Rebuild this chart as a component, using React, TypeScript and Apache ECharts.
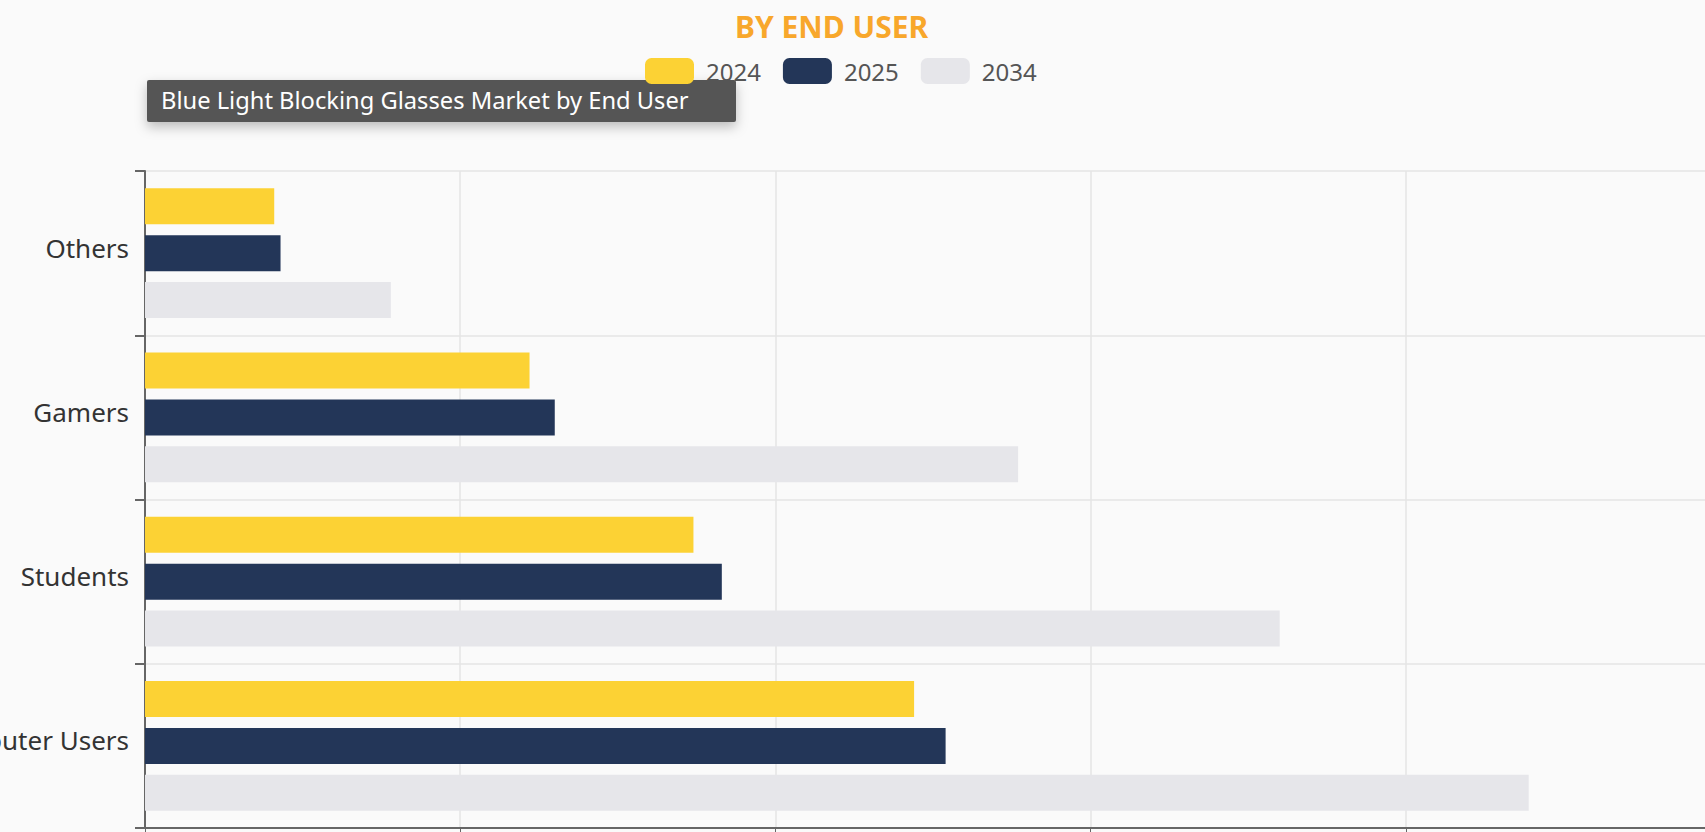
import React, { useEffect, useRef } from "react";
import * as echarts from "echarts";

const categories = ["Others", "Gamers", "Students", "Computer Users"];
const seriesNames = ["2024", "2025", "2034"];
const values2024 = [0.41, 1.22, 1.74, 2.44];
const values2025 = [0.43, 1.3, 1.83, 2.54];
const values2034 = [0.78, 2.77, 3.6, 4.39];
const seriesColors = ["#FCD234", "#233658", "#E6E6EA"];
const titleText = "BY END USER";
const tooltipText = "Blue Light Blocking Glasses Market by End User";

export default function App() {
  const ref = useRef<HTMLDivElement>(null);
  useEffect(() => {
    if (!ref.current) return;
    const chart = echarts.init(ref.current, undefined, { renderer: "svg" });
    const seriesData = [values2024, values2025, values2034];
    chart.setOption({
      animation: false,
      backgroundColor: "#FAFAFA",
      title: {
        text: titleText,
        left: 730,
        top: 6,
        textStyle: {
          color: "#F8A72B",
          fontSize: 30,
          fontWeight: "bold",
          fontFamily: "Noto Sans",
        },
      },
      legend: {
        data: seriesNames,
        left: 640,
        top: 53,
        itemWidth: 49,
        itemHeight: 26,
        itemGap: 22,
        icon: "roundRect",
        textStyle: {
          color: "#555",
          fontSize: 24,
          fontFamily: "Noto Sans",
          padding: [0, 0, 0, 7],
        },
      },
      grid: {
        left: 145,
        top: 171,
        width: 1576,
        height: 657,
        containLabel: false,
        outerBoundsMode: "none",
      },
      xAxis: {
        type: "value",
        min: 0,
        max: 5,
        interval: 1,
        axisLine: { show: true, lineStyle: { color: "#666", width: 2 } },
        axisTick: { show: true, length: 6, lineStyle: { color: "#666" } },
        axisLabel: { show: false },
        splitLine: { show: true, lineStyle: { color: "#E4E4E4", width: 1.5 } },
      },
      yAxis: {
        type: "category",
        inverse: true,
        data: categories,
        axisLine: { show: true, lineStyle: { color: "#666", width: 2 } },
        axisTick: { show: true, length: 10, lineStyle: { color: "#666", width: 2 } },
        axisLabel: {
          color: "#333",
          fontSize: 26,
          fontFamily: "Noto Sans",
          margin: 16,
          verticalAlign: "bottom",
          lineHeight: 11,
        },
        splitLine: { show: true, lineStyle: { color: "#E4E4E4", width: 1.5 } },
      },
      series: seriesNames.map((name, i) => ({
        name,
        type: "bar",
        data: seriesData[i],
        barWidth: 36,
        barGap: "30%",
        itemStyle: { color: seriesColors[i] },
      })),
      graphic: [
        {
          type: "group",
          left: 147,
          top: 80,
          z: 100,
          children: [
            {
              type: "rect",
              shape: { x: 0, y: 0, width: 589, height: 42, r: 2 },
              style: {
                fill: "#555555",
                shadowBlur: 12,
                shadowColor: "rgba(0,0,0,0.25)",
                shadowOffsetY: 5,
              },
            },
            {
              type: "text",
              x: 14,
              y: 20,
              style: {
                text: tooltipText,
                fill: "#FFFFFF",
                fontSize: 23.7,
                fontFamily: "Noto Sans",
                verticalAlign: "middle",
              },
            },
          ],
        },
      ],
    });
    return () => chart.dispose();
  }, []);
  return (
    <div
      style={{
        position: "fixed",
        left: 0,
        top: 0,
        width: 1705,
        height: 832,
        overflow: "hidden",
        background: "#FAFAFA",
      }}
    >
      <div ref={ref} style={{ width: 1800, height: 832 }} />
    </div>
  );
}
